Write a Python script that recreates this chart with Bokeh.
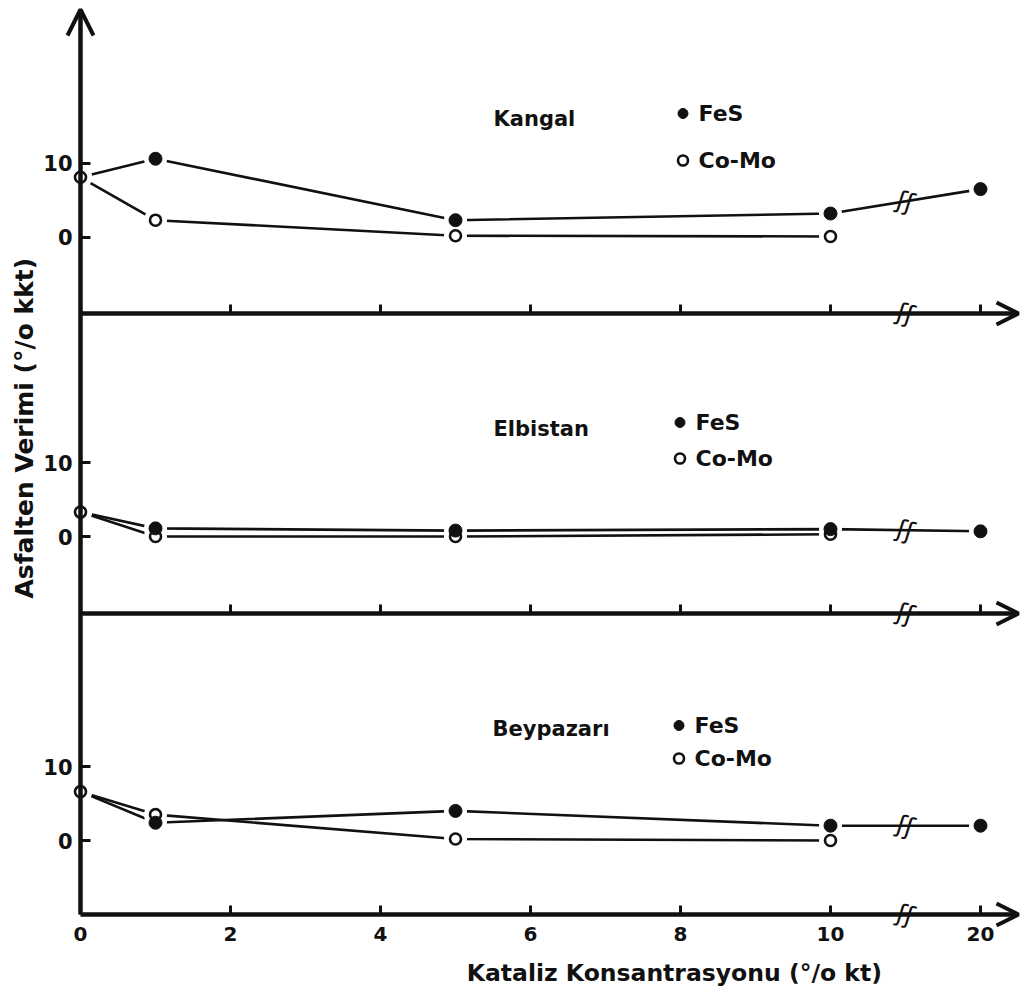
import math
from bokeh.plotting import figure
from bokeh.models import (Range1d, LinearAxis, FixedTicker, Arrow, OpenHead, Label,
                          Legend, LegendItem)
from bokeh.core.properties import value
from bokeh.embed import file_html
from bokeh.resources import INLINE

# ---------------- data ----------------
CONC_FES = [0, 1, 5, 10, 20]          # catalyst concentration (% kt)
CONC_COMO = [0, 1, 5, 10]
KANGAL_FES = [8.1, 10.6, 2.3, 3.2, 6.5]
KANGAL_COMO = [8.1, 2.3, 0.2, 0.1]
ELBISTAN_FES = [3.3, 1.1, 0.8, 1.0, 0.7]
ELBISTAN_COMO = [3.3, 0.0, 0.0, 0.3]
BEYPAZARI_FES = [6.6, 2.4, 4.0, 2.0, 2.0]
BEYPAZARI_COMO = [6.6, 3.5, 0.2, 0.0]
PANEL_NAMES = ["Kangal", "Elbistan", "Beypazarı"]
X_TICKS = [0, 2, 4, 6, 8, 10, 20]
Y_TICKS = [0, 10]
SERIES_NAMES = ["FeS", "Co-Mo"]
X_TITLE = "Kataliz  Konsantrasyonu  (°/o kt)"
Y_TITLE = "Asfalten  Verimi  (°/o kkt)"
BREAK_MARK = "ʃʃ"

PANEL_DATA = [(KANGAL_FES, KANGAL_COMO), (ELBISTAN_FES, ELBISTAN_COMO),
              (BEYPAZARI_FES, BEYPAZARI_COMO)]

# ---------------- layout ----------------
W, H = 1022, 994
X0_PX, PX_PER_X = 80.0, 75.0
Y0_PX, PX_PER_Y = 840.0, 7.4
PANEL_ZERO_PX = [236.7, 536.0, 840.0]
AXIS_LEVEL = [-10.3, -10.4, -10.0]     # where each panel's x axis sits (panel units)
BREAK_AT = 15                           # concentration where the axis is broken
INK = "#111111"
FONT = value("DejaVu Sans")


def px2x(px):
    return (px - X0_PX) / PX_PER_X


def py2y(py):
    return (Y0_PX - py) / PX_PER_Y


def bx(c):
    """broken x axis: 10 -> 20 is compressed to 10 -> 12"""
    return c if c <= 10 else 10 + (c - 10) / 5.0


OFFSETS = [py2y(z) for z in PANEL_ZERO_PX]

p = figure(width=W, height=H, x_range=Range1d(px2x(0), px2x(W)),
           y_range=Range1d(py2y(H), py2y(0)), output_backend="svg",
           toolbar_location=None, x_axis_type=None, y_axis_type=None,
           min_border=0)
p.outline_line_color = None
p.background_fill_color = "white"

x_tip = px2x(1018)
y_tip = py2y(9)

title_pos = [(493, 118), (493, 428), (492, 728)]
legend_pos = [(682, 113, 47), (679, 422, 36), (678, 725, 33)]

y_tick_vals = []
y_overrides = {}

for i, (name, (fes, como)) in enumerate(zip(PANEL_NAMES, PANEL_DATA)):
    off = OFFSETS[i]
    xf = [bx(c) for c in CONC_FES]
    yf = [v + off for v in fes]
    xc = [bx(c) for c in CONC_COMO]
    yc = [v + off for v in como]

    p.line(xf, yf, line_width=2.6, line_color=INK)
    p.line(xc, yc, line_width=2.6, line_color=INK)
    # white halo so the curves stop short of the points
    p.scatter(xf + xc, yf + yc, size=23, fill_color="white", line_color=None)
    como_r = p.scatter(xc, yc, size=11, fill_color="white", line_color=INK,
                       line_width=2.6)
    fes_r = p.scatter(xf[1:], yf[1:], size=13, fill_color=INK, line_color=INK)

    # break marks on the data line and on the axis
    yb = (fes[-2] + fes[-1]) / 2 + off
    ax_y = AXIS_LEVEL[i] + off
    p.text(x=[bx(BREAK_AT), bx(BREAK_AT)], y=[yb, ax_y], text=[BREAK_MARK, BREAK_MARK],
           text_font=FONT, text_font_size="25px",
           text_align="center", text_baseline="middle", text_color=INK, angle=-0.3)

    # x axis of this panel
    xax = LinearAxis(fixed_location=ax_y,
                     ticker=FixedTicker(ticks=[bx(t) for t in X_TICKS]),
                     axis_line_color=None, major_tick_in=9, major_tick_out=0,
                     major_tick_line_width=3, major_tick_line_color=INK,
                     minor_tick_line_color=None, bounds=(0, x_tip))
    if i == len(PANEL_NAMES) - 1:
        xax.major_label_overrides = {bx(t): str(t) for t in X_TICKS}
        xax.major_label_text_font = "DejaVu Sans"
        xax.major_label_text_font_style = "bold"
        xax.major_label_text_font_size = "20px"
        xax.major_label_text_color = INK
        xax.major_label_standoff = 12
    else:
        xax.major_label_text_color = None
    p.add_layout(xax, "below")
    p.add_layout(Arrow(x_start=0, y_start=ax_y, x_end=x_tip, y_end=ax_y,
                       line_width=4.5, line_color=INK,
                       end=OpenHead(size=22, line_width=4, line_color=INK)))

    for t in Y_TICKS:
        y_tick_vals.append(t + off)
        y_overrides[t + off] = str(t)

    # panel title
    tx, ty = title_pos[i]
    p.add_layout(Label(x=px2x(tx), y=py2y(ty), text=name, text_font="DejaVu Sans",
                       text_font_style="bold", text_font_size="21px",
                       text_color=INK, text_align="left", text_baseline="alphabetic"))

    # legend
    gx, gy, pitch = legend_pos[i]
    row_h = 26
    spacing = pitch - row_h
    bottom = gy + pitch + row_h / 2
    leg = Legend(items=[LegendItem(label=SERIES_NAMES[0], renderers=[fes_r]),
                        LegendItem(label=SERIES_NAMES[1], renderers=[como_r])],
                 location=(gx - 12.5, H - bottom),
                 glyph_width=25, glyph_height=row_h, label_height=row_h,
                 label_standoff=4, spacing=spacing, padding=0, margin=0,
                 border_line_color=None, background_fill_alpha=0,
                 label_text_font="DejaVu Sans", label_text_font_style="bold",
                 label_text_font_size="22px", label_text_color=INK)
    p.add_layout(leg)

# y axis
yax = LinearAxis(fixed_location=0, ticker=FixedTicker(ticks=y_tick_vals),
                 major_label_overrides=y_overrides, axis_line_color=None,
                 major_tick_in=10, major_tick_out=0, major_tick_line_width=3,
                 major_tick_line_color=INK, minor_tick_line_color=None,
                 major_label_text_font="DejaVu Sans", major_label_text_font_style="bold",
                 major_label_text_font_size="21px", major_label_text_color=INK,
                 major_label_standoff=8)
p.add_layout(yax, "left")
p.add_layout(Arrow(x_start=0, y_start=AXIS_LEVEL[-1] + OFFSETS[-1], x_end=0, y_end=y_tip,
                   line_width=4.5, line_color=INK,
                   end=OpenHead(size=26, line_width=4, line_color=INK)))

# axis titles
p.add_layout(Label(x=px2x(682), y=py2y(972), text=X_TITLE, text_font="DejaVu Sans",
                   text_font_style="bold", text_font_size="23.5px", text_color=INK,
                   text_align="center", text_baseline="middle"))
p.add_layout(Label(x=px2x(24), y=py2y(419), text=Y_TITLE, text_font="DejaVu Sans",
                   text_font_style="bold", text_font_size="25px", text_color=INK,
                   text_align="center", text_baseline="middle", angle=math.pi / 2))

open("out.html", "w").write(file_html(p, INLINE))
